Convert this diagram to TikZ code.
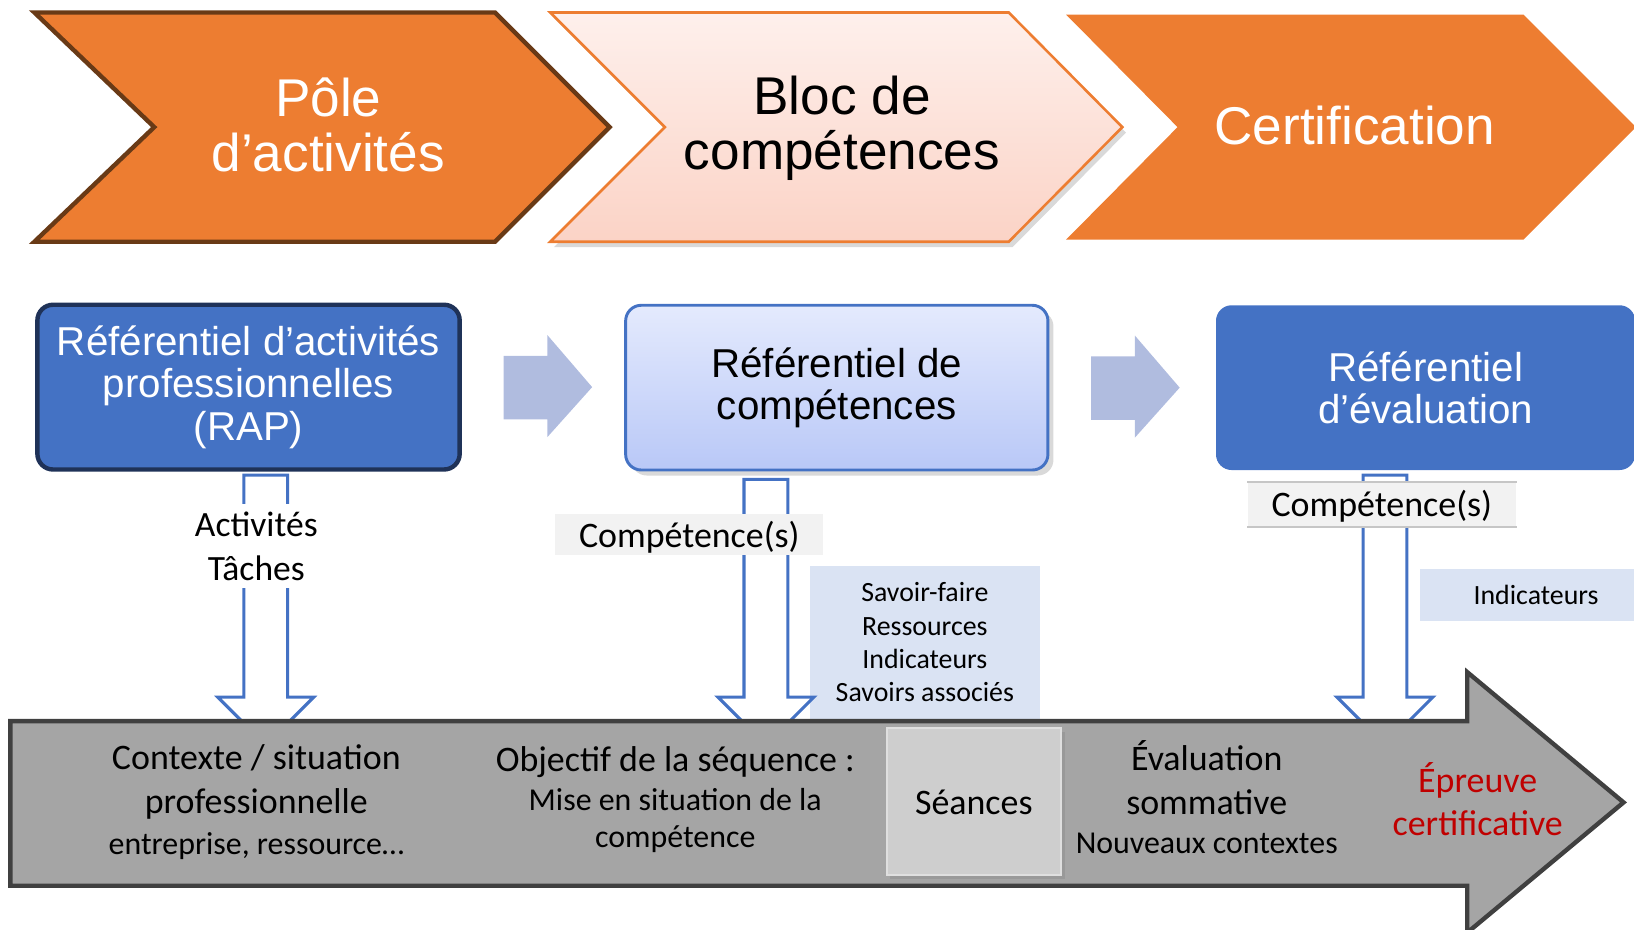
\documentclass[tikz,border=0pt]{standalone}
\usepackage{fontspec}
\setmainfont{Liberation Sans}
\newfontfamily\calib{Carlito}
\usetikzlibrary{calc,shadows}
\definecolor{pOrange}{RGB}{237,125,49}
\definecolor{pBrown}{RGB}{105,58,22}
\definecolor{pPinkTop}{RGB}{254,240,236}
\definecolor{pPinkBot}{RGB}{251,211,198}
\definecolor{pBlue}{RGB}{68,114,196}
\definecolor{pNavy}{RGB}{31,50,88}
\definecolor{pSkyTop}{RGB}{228,234,253}
\definecolor{pSkyBot}{RGB}{185,200,247}
\definecolor{pPeri}{RGB}{176,188,223}
\definecolor{pPale}{RGB}{218,227,243}
\definecolor{pLabel}{RGB}{242,242,242}
\definecolor{pGrey}{RGB}{165,165,165}
\definecolor{pDark}{RGB}{64,64,64}
\definecolor{pSeance}{RGB}{206,206,206}
\definecolor{pRed}{RGB}{192,0,0}

\newcommand{\smalltxt}{\fontsize{8.7}{10}\selectfont}
% hollow arrow pointing down: #1 top of the shaft, #2 base of the head
\newcommand{\hollowdown}[2]{%
  \draw[hollow] ($(#1)+(-21,0)$) -- ($(#2)+(-21,0)$) -- ($(#2)+(-46,0)$) -- ($(#2)+(0,46)$)
    -- ($(#2)+(46,0)$) -- ($(#2)+(21,0)$) -- ($(#1)+(21,0)$) -- cycle;}
% flat arrow pointing right: #1 left end of the shaft
\newcommand{\flowarrow}[1]{%
  \fill[pPeri] ($(#1)+(0,-30)$) -- ++(42,0) -- ++(0,-20) -- ++(43,50) -- ++(-43,48) -- ++(0,-17) -- ++(-42,0) -- cycle;}

\tikzset{
  headtxt/.style={align=center, font=\fontsize{14.5}{15}\selectfont},
  refbox/.style={align=center, font=\fontsize{11}{11.6}\selectfont, rounded corners=0.15cm,
    minimum width=4.05cm, minimum height=1.58cm},
  hollow/.style={draw=pBlue, line width=0.85pt, fill=white},
  complbl/.style={fill=pLabel, inner sep=0pt, minimum width=2.57cm, minimum height=0.40cm,
    text height=8.5pt, text depth=1.7pt, font=\calib\fontsize{9.8}{12}\selectfont},
  palebox/.style={fill=pPale, inner sep=0pt, align=center, font=\calib\fontsize{7.6}{9.1}\selectfont},
  steptxt/.style={align=center, font=\calib\fontsize{9.8}{12}\selectfont},
}

\begin{document}
\begin{tikzpicture}[x=0.01cm, y=-0.01cm]
\useasboundingbox (0,0) rectangle (1568,892);

% Chevrons
\draw[pBrown, line width=1.2pt, fill=pOrange] (33,12) -- (475,12) -- (585,122) -- (475,232) -- (33,232) -- (148,122) -- cycle;
\path[draw=pOrange, line width=0.7pt, top color=pPinkTop, bottom color=pPinkBot,
  drop shadow={opacity=0.3, shadow xshift=1pt, shadow yshift=-1.5pt}]
  (528,12) -- (968,12) -- (1077,122) -- (968,232) -- (528,232) -- (638,122) -- cycle;
\fill[pOrange] (1023,14) -- (1462,14) -- (1570,122) -- (1462,230) -- (1023,230) -- (1130,122) -- cycle;

\node[headtxt, white] (pole) at (315,120) {Pôle\\d’activités};
\node[headtxt] (bloc) at (808,123) {Bloc de\\compétences};
\node[headtxt, white] (certif) at (1300,120) {Certification};

% Referentiels
\node[refbox, fill=pBlue, draw=pNavy, line width=1.2pt, text=white] (rap) at (238.5,371.5)
  {Référentiel d’activités\\professionnelles\\(RAP)};
\node[refbox, top color=pSkyTop, bottom color=pSkyBot, draw=pBlue, line width=0.8pt,
  drop shadow={opacity=0.3, shadow xshift=1.5pt, shadow yshift=-1.5pt}] (refcomp) at (803,372)
  {Référentiel de\\compétences};
\node[refbox, fill=pBlue, text=white, minimum width=4.02cm] (refeval) at (1368,372)
  {Référentiel\\d’évaluation};

\coordinate (flowA) at ($(rap.east)+(40,0)$);
\coordinate (flowB) at ($(refcomp.east)+(40,0)$);
\flowarrow{flowA}
\flowarrow{flowB}

% Side boxes
\node[palebox, minimum width=2.21cm, minimum height=1.47cm] (savoirs) at (887.5,616.5)
  {Savoir-faire\\Ressources\\Indicateurs\\Savoirs associés};
\node[palebox, minimum width=2.22cm, minimum height=0.50cm] (indic) at (1474,571) {Indicateurs};

% Down arrows
\coordinate (topA) at (255,456);  \coordinate (headA) at (255,669);
\coordinate (topB) at (735,460);  \coordinate (headB) at (735,669);
\coordinate (topC) at (1329,456); \coordinate (headC) at (1329,669);
\hollowdown{topA}{headA}
\hollowdown{topB}{headB}
\hollowdown{topC}{headC}

\node[fill=white, inner sep=2pt, align=center, font=\calib\fontsize{9.7}{12}\selectfont] (act) at (246,524)
  {Activités\\Tâches};
\node[complbl] (compB) at (661.5,513) {Compétence(s)};
\node[complbl, minimum height=0.42cm] (compC) at (1326,484) {Compétence(s)};
\draw[gray!45, line width=0.6pt] (compC.north west) -- (compC.north east) (compC.south west) -- (compC.south east);

% Timeline
\draw[pDark, line width=1.2pt, fill=pGrey] (10,692) -- (1408,692) -- (1408,645) -- (1558,770) -- (1408,895) -- (1408,850) -- (10,850) -- cycle;
\node[fill=pSeance, draw=gray!25, line width=0.6pt, minimum width=1.67cm, minimum height=1.41cm,
  drop shadow={opacity=0.3, shadow xshift=1pt, shadow yshift=-1pt},
  font=\calib\fontsize{9.8}{12}\selectfont] (seances) at (934.5,769.5) {Séances};

\node[steptxt] (ctx) at (246,770) {Contexte / situation\\professionnelle\\[-0.9pt]{\smalltxt entreprise, ressource…}};
\node[steptxt] (obj) at (648,767.5) {Objectif de la séquence :\\[-1.45pt]{\smalltxt Mise en situation de la}\\[-1.8pt]{\smalltxt compétence}};
\node[steptxt] (eval) at (1158,765) {Évaluation\\sommative\\[-1.2pt]{\smalltxt Nouveaux contextes}};
\node[steptxt, text=pRed, font=\calib\fontsize{9.8}{11.7}\selectfont] (epreuve) at (1418,767) {Épreuve\\certificative};
\end{tikzpicture}
\end{document}
